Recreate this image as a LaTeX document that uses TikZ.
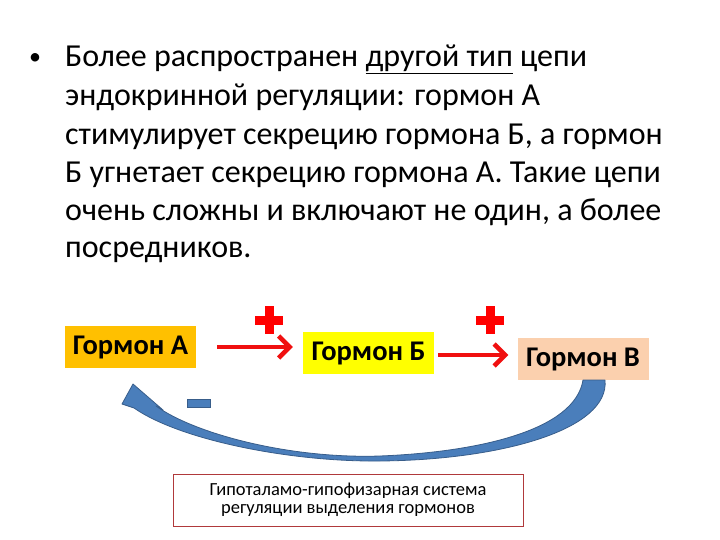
\documentclass[tikz,border=0pt]{standalone}
\usepackage{fontspec}
\setmainfont{Carlito}
\usetikzlibrary{arrows.meta,calc}
\definecolor{hA}{HTML}{FFC000}
\definecolor{hB}{HTML}{FFFF00}
\definecolor{hV}{HTML}{FBD0AE}
\definecolor{arrred}{HTML}{F01010}
\definecolor{bfill}{HTML}{4A7EBB}
\definecolor{bdraw}{HTML}{385D8A}
\definecolor{boxred}{HTML}{B0393B}
\tikzset{
  hormone/.style={minimum width=131pt,minimum height=42pt,inner sep=0pt,
    font=\fontsize{28.5}{32}\selectfont\bfseries},
  bodyline/.style={anchor=base west,inner sep=0pt,font=\fontsize{32}{38}\selectfont},
  redarrow/.style={draw=arrred,line width=3.5pt,-{Straight Barb[length=11pt,width=22pt,line width=4.5pt]}},
  plussign/.style={fill=red},
}
\begin{document}
\begin{tikzpicture}[x=1pt,y=-1pt]
\useasboundingbox (0,0) rectangle (720,540);
% bullet text
\node[anchor=base west,inner sep=0pt,font=\fontsize{24}{28}\selectfont] (bul) at (29,65) {•};
\node[bodyline] (l1) at (65,67) {Более распространен \underline{другой тип} цепи};
\node[bodyline] (l2) at (65,106) {эндокринной регуляции: гормон А};
\node[bodyline] (l3) at (65,145) {стимулирует секрецию гормона Б, а гормон};
\node[bodyline] (l4) at (65,183) {Б угнетает секрецию гормона А. Такие цепи};
\node[bodyline] (l5) at (65,221) {очень сложны и включают не один, а более};
\node[bodyline] (l6) at (65,258) {посредников.};
% hormone boxes
\node[hormone,fill=hA] (a) at (130.5,347) {Гормон А};
\node[hormone,fill=hB] (b) at (368.5,353) {Гормон Б};
\node[hormone,fill=hV] (v) at (583,359) {Гормон В};
% red arrows
\draw[redarrow] ([xshift=21pt]a.east) -- ([xshift=-10pt]a.east -| b.west);
\draw[redarrow] ([xshift=4pt,yshift=-2pt]b.east) -- ([xshift=-9pt,yshift=-2pt]b.east -| v.west);
% plus signs
\fill[plussign] (255,316) rectangle (283,325);
\fill[plussign] (264.5,306) rectangle (273.5,334);
\fill[plussign] (476,316) rectangle (504,325);
\fill[plussign] (485.5,306) rectangle (494.5,334);
% minus sign
\filldraw[fill=bfill,draw=bdraw,line width=0.6pt] (187,399) rectangle (210,407);
% blue curved arrow from V back to A
\filldraw[fill=bfill,draw=bdraw,line width=0.8pt,line join=round]
  (583,380) .. controls (575,430) and (480,452) .. (380,456)
  .. controls (290,459) and (195,434) .. (156,406)
  -- (163,410) -- (133,384) -- (122,404) -- (134,408)
  .. controls (180,440) and (290,462) .. (380,461)
  .. controls (500,460) and (610,430) .. (605,380) -- cycle;
% bottom box
\node[draw=boxred,line width=0.7pt,fill=white,minimum width=350pt,minimum height=52pt,
  inner sep=0pt,align=center,font=\fontsize{18.5}{18}\selectfont] (sys) at (348,500)
  {Гипоталамо-гипофизарная система\\регуляции выделения гормонов};
\end{tikzpicture}
\end{document}
